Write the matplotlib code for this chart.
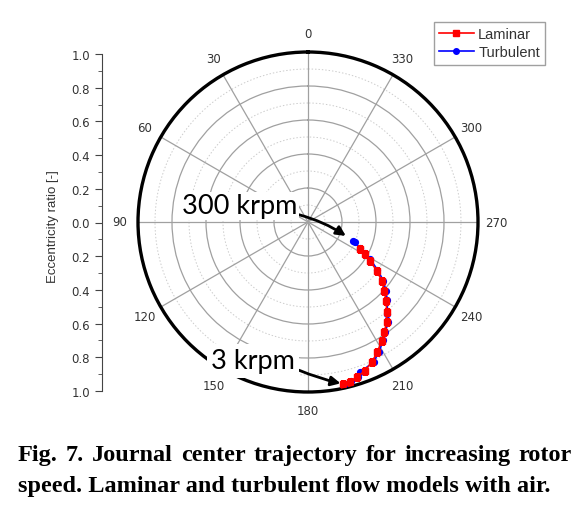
import numpy as np
import matplotlib
matplotlib.use('Agg')
import matplotlib.pyplot as plt

# eccentricity ratio trajectories (theta in degrees, 0 on top, counter-clockwise)
lam_theta = [242.6, 240.7, 238.0, 234.7, 231.5, 228.0, 224.7, 221.1, 218.1, 214.6,
             211.8, 208.0, 204.4, 201.0, 197.4, 194.7, 192.3]
lam_r = [0.345, 0.385, 0.43, 0.495, 0.554, 0.604, 0.652, 0.705, 0.75, 0.788,
         0.822, 0.868, 0.906, 0.937, 0.957, 0.971, 0.975]
turb_theta = [247.3, 246.6, 243.2, 241.3, 239.2, 235.5, 232.1, 228.6, 225.4, 220.8,
              218.6, 215.2, 212.4, 208.7, 205.1, 199.1, 198.0, 195.2, 192.8]
turb_r = [0.285, 0.30, 0.345, 0.385, 0.425, 0.495, 0.562, 0.611, 0.655, 0.715,
          0.755, 0.79, 0.825, 0.87, 0.91, 0.935, 0.96, 0.972, 0.976]

angle_ticks = list(range(0, 360, 30))
ring_ticks = [0.2, 0.4, 0.6, 0.8]
minor_rings = [0.1, 0.3, 0.5, 0.7, 0.9]
ecc_ticks = np.round(np.arange(-1.0, 1.01, 0.2), 1)

caption1 = "Fig. 7. Journal center trajectory for increasing rotor"
caption2 = "speed. Laminar and turbulent flow models with air."

W, H = 585, 510
fig = plt.figure(figsize=(W / 100, H / 100), dpi=100)

cx, cy, R = 308, 223, 170
ax = fig.add_axes([(cx - R) / W, (H - cy - R) / H, 2 * R / W, 2 * R / H], projection='polar')
ax.set_theta_zero_location('N')
ax.set_theta_direction(1)
ax.set_ylim(0, 1)
ax.set_rticks(ring_ticks)
ax.set_yticklabels([])
ax.set_thetagrids(angle_ticks, [str(a) for a in angle_ticks])
ax.tick_params(axis='x', pad=3, labelsize=8.5, labelcolor='#333333')
ax.grid(True, color='#a0a0a0', lw=0.9)
ax.spines['polar'].set_linewidth(2.4)
ax.spines['polar'].set_color('black')
tt = np.linspace(0, 2 * np.pi, 400)
for rr in minor_rings:
    ax.plot(tt, np.full_like(tt, rr), color='#cccccc', lw=0.7, ls=(0, (1.5, 2)), zorder=1)

ax.plot(np.radians(turb_theta), turb_r, color='#0000ff', marker='o', ms=4.2, lw=1.2,
        label='Turbulent', zorder=3)
ax.plot(np.radians(lam_theta), lam_r, color='#ff0000', marker='s', ms=4.6, lw=1.2,
        label='Laminar', zorder=4)

# annotations
ax.annotate('300 krpm', xy=(np.radians(turb_theta[0]), turb_r[0]), xycoords='data',
            xytext=(240, H - 207), textcoords='figure pixels',
            fontsize=19.5, family='Lato', ha='center', va='center', zorder=6,
            bbox=dict(boxstyle='square,pad=0.05', fc='white', ec='none'),
            arrowprops=dict(arrowstyle='-|>', color='black', lw=2, mutation_scale=14,
                            shrinkA=0, shrinkB=6, connectionstyle='arc3,rad=-0.1',
                            relpos=(0.97, 0.2)))
ax.annotate('3 krpm', xy=(np.radians(lam_theta[-1]), lam_r[-1]), xycoords='data',
            xytext=(253, H - 362), textcoords='figure pixels',
            fontsize=19.5, family='Lato', ha='center', va='center', zorder=6,
            bbox=dict(boxstyle='square,pad=0.15', fc='white', ec='none'),
            arrowprops=dict(arrowstyle='-|>', color='black', lw=2, mutation_scale=14,
                            shrinkA=0, shrinkB=2, connectionstyle='arc3,rad=0.05',
                            relpos=(1.0, 0.2)))

handles, labels = ax.get_legend_handles_labels()
leg = fig.legend(handles[::-1], labels[::-1], loc='upper right',
                 bbox_to_anchor=(545 / W, (H - 23) / H), borderaxespad=0,
                 fancybox=False, edgecolor='#888888',
                 handlelength=2.4, handletextpad=0.3, borderpad=0.35, labelspacing=0.3,
                 prop={'family': 'Liberation Sans', 'size': 10.5})
leg.get_frame().set_linewidth(1.0)
for h in leg.legend_handles:
    h.set_markersize(4)
for t in leg.get_texts():
    t.set_color('#333333')

# left eccentricity axis
ay = fig.add_axes([102 / W, (H - 392) / H, 0.001, 337 / H])
ay.set_ylim(-1, 1)
ay.set_xticks([])
for s in ['top', 'right', 'bottom']:
    ay.spines[s].set_visible(False)
ay.spines['left'].set_color('#444444')
ay.set_yticks(ecc_ticks)
ay.set_yticklabels(['%.1f' % abs(v) for v in ecc_ticks])
ay.set_yticks(np.round(np.arange(-0.9, 0.91, 0.2), 1), minor=True)
ay.tick_params(axis='y', which='major', length=5, labelsize=8.5, labelcolor='#333333', color='#444444')
ay.tick_params(axis='y', which='minor', length=3, color='#444444')
ay.patch.set_visible(False)
fig.text(53 / W, 1 - 227 / H, 'Eccentricity ratio [-]', rotation=90, ha='center', va='center',
         fontsize=9.5, color='#333333', family='Liberation Sans')

# caption, first line justified
cap_font = dict(family='Liberation Serif', weight='bold', fontsize=17.5)
renderer = fig.canvas.get_renderer()
words = caption1.split(' ')
widths = []
for w_ in words:
    t = fig.text(0, 0, w_, **cap_font)
    widths.append(t.get_window_extent(renderer).width)
    t.remove()
x0, x1 = 18, 572
gap = (x1 - x0 - sum(widths)) / (len(words) - 1)
x = x0
for w_, wd in zip(words, widths):
    fig.text(x / W, 1 - 461 / H, w_, va='baseline', ha='left', **cap_font)
    x += wd + gap
fig.text(x0 / W, 1 - 492 / H, caption2, va='baseline', ha='left', **cap_font)

fig.savefig('out.png', dpi=100)
